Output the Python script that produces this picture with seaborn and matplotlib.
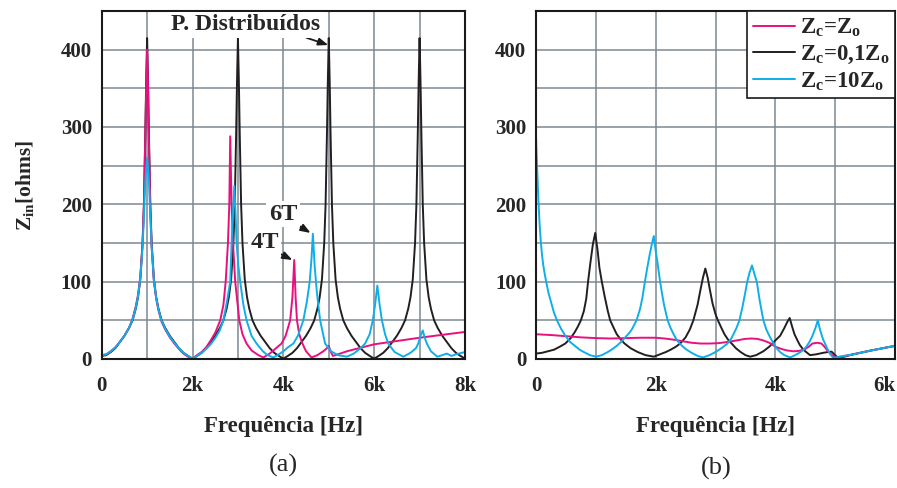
import numpy as np
import pandas as pd
import matplotlib
matplotlib.use("Agg")
import matplotlib.pyplot as plt
import seaborn as sns
from matplotlib.lines import Line2D

# ---------------- data ----------------
# (a) left panel, frequency in Hz, |Zin| in ohms
a_black_f = [0, 100, 200, 300, 400, 500, 600, 680, 750, 800, 850, 900, 930, 960, 980, 1000,
             1020, 1040, 1070, 1100, 1150, 1200, 1250, 1320, 1400, 1500, 1600, 1700, 1800, 1900, 2000,
             2100, 2200, 2300, 2400, 2500, 2600, 2680, 2750, 2800, 2850, 2900, 2930, 2960, 2980, 3000,
             3020, 3040, 3070, 3100, 3150, 3200, 3250, 3320, 3400, 3500, 3600, 3700, 3800, 3900, 4000,
             4100, 4200, 4300, 4400, 4500, 4600, 4680, 4750, 4800, 4850, 4900, 4930, 4960, 4980, 5000,
             5020, 5040, 5070, 5100, 5150, 5200, 5250, 5320, 5400, 5500, 5600, 5700, 5800, 5900, 6000,
             6100, 6200, 6300, 6400, 6500, 6600, 6680, 6750, 6800, 6850, 6900, 6930, 6960, 6980, 7000,
             7020, 7040, 7070, 7100, 7150, 7200, 7250, 7320, 7400, 7500, 7600, 7700, 7800, 7900, 8000]
a_black_z = [4, 5, 9, 14, 22, 30, 40, 50, 65, 80, 103, 150, 200, 290, 360, 415,
             360, 290, 200, 150, 103, 80, 65, 50, 40, 30, 22, 14, 8, 4, 0.5,
             4, 8, 14, 22, 30, 40, 50, 65, 80, 103, 150, 200, 290, 360, 415,
             360, 290, 200, 150, 103, 80, 65, 50, 40, 30, 22, 14, 8, 4, 0.5,
             4, 8, 14, 22, 30, 40, 50, 65, 80, 103, 150, 200, 290, 360, 415,
             360, 290, 200, 150, 103, 80, 65, 50, 40, 30, 22, 14, 8, 4, 0.5,
             4, 8, 14, 22, 30, 40, 50, 65, 80, 103, 150, 200, 290, 360, 415,
             360, 290, 200, 150, 103, 80, 65, 50, 40, 30, 22, 14, 8, 4, 0.5]

a_pink_f = [0, 100, 200, 300, 400, 500, 600, 680, 750, 800, 850, 900, 930, 960, 980, 1000,
            1020, 1040, 1070, 1100, 1150, 1200, 1250, 1320, 1400, 1500, 1600, 1700, 1800, 1900, 2000,
            2100, 2200, 2300, 2400, 2500, 2610, 2680, 2730, 2780, 2810, 2830, 2860, 2900, 2940, 3030,
            3100, 3190, 3300, 3450, 3560, 3700, 3800, 3960, 4050, 4150, 4200, 4240, 4270, 4300, 4350,
            4420, 4500, 4620, 4750, 4880, 4960, 5000, 5040, 5090, 5200, 5400, 6000, 7000, 8000]
a_pink_z = [5, 6, 10, 15, 22, 30, 40, 52, 68, 83, 106, 150, 200, 290, 350, 400,
            350, 280, 195, 145, 100, 78, 63, 48, 38, 28, 20, 13, 7, 3, 0.5,
            5, 9, 15, 24, 34, 50, 70, 100, 150, 200, 288, 200, 140, 100, 50,
            32, 20, 11, 5, 2, 7, 12, 20, 30, 50, 80, 128, 80, 50, 32,
            20, 10, 2, 5, 10, 14, 17, 10, 4, 6, 10, 19, 27.5, 35]

a_blue_f = [0, 100, 200, 300, 400, 500, 600, 680, 750, 800, 850, 900, 930, 960, 1000,
            1040, 1070, 1100, 1150, 1200, 1250, 1320, 1400, 1500, 1600, 1700, 1800, 1900, 2000,
            2100, 2200, 2300, 2400, 2500, 2600, 2680, 2760, 2830, 2860, 2890, 2920, 2950, 2970,
            3010, 3050, 3120, 3190, 3300, 3410, 3550, 3650, 3780, 3900, 4000, 4100, 4220, 4320,
            4440, 4520, 4580, 4620, 4650, 4690, 4740, 4810, 4920, 5050, 5200, 5400, 5550, 5700,
            5800, 5900, 5970, 6020, 6070, 6120, 6170, 6240, 6310, 6450, 6640, 6800, 6920, 6970,
            7020, 7070, 7110, 7160, 7250, 7390, 7500, 7600, 7700, 7800, 8000]
a_blue_z = [5, 6, 10, 15, 22, 30, 40, 51, 66, 81, 104, 145, 185, 230, 260,
            230, 185, 145, 102, 79, 64, 49, 39, 29, 21, 14, 8, 4, 0.5,
            4, 8, 13, 19, 27, 37, 50, 75, 100, 150, 190, 224, 185, 150,
            120, 100, 70, 50, 30, 20, 10, 5, 2, 6, 10, 15, 20, 30,
            50, 75, 100, 130, 162, 120, 85, 50, 20, 10, 5, 3, 7, 14,
            20, 32, 50, 70, 95, 70, 50, 32, 20, 9, 3, 8, 14, 20,
            30, 37, 28, 20, 10, 3, 5, 7, 4, 6, 9]

# (b) right panel
b_pink_f = [0, 250, 500, 750, 1000, 1250, 1500, 1750, 2000, 2150, 2300, 2450, 2600, 2750,
            2900, 3050, 3200, 3350, 3500, 3600, 3700, 3800, 3900, 4000, 4100, 4200, 4300,
            4400, 4500, 4560, 4620, 4700, 4770, 4820, 4880, 4950, 5020, 5300, 5600, 6000]
b_pink_z = [32, 31, 29.5, 28, 27, 26.5, 27, 27.5, 27.5, 26.5, 25, 23, 21, 20,
            20, 20.5, 22, 24, 26, 26.5, 26, 24, 21, 16, 13, 11, 10,
            10.5, 13, 16, 20, 21, 20, 16, 10, 5, 2, 6, 11, 17]

b_black_f = [0, 100, 200, 300, 400, 490, 580, 650, 700, 750, 800, 840, 870, 910, 950, 990,
             1030, 1060, 1100, 1150, 1200, 1240, 1300, 1350, 1420, 1480, 1580, 1700, 1830, 1970,
             2070, 2170, 2250, 2340, 2410, 2500, 2570, 2630, 2700, 2750, 2790, 2830, 2870, 2900,
             2950, 3000, 3040, 3100, 3150, 3210, 3270, 3340, 3420, 3500, 3580, 3680, 3800, 3900,
             4000, 4080, 4150, 4200, 4240, 4280, 4320, 4370, 4410, 4460, 4500, 4580, 4680, 4800,
             4880, 4940, 5000, 5050, 5300, 5600, 6000]
b_black_z = [7, 8, 10, 12, 16, 20, 27, 35, 42, 50, 62, 78, 100, 125, 148, 163,
             140, 118, 100, 80, 62, 50, 40, 32, 25, 20, 14, 9, 5, 3,
             6, 9, 12, 16, 20, 28, 38, 50, 70, 90, 105, 117, 105, 92,
             72, 58, 50, 40, 32, 25, 20, 14, 9, 5, 3, 5, 10, 16,
             24, 30, 40, 48, 53, 42, 32, 24, 18, 13, 10, 5, 6, 8,
             9, 9.5, 5, 1, 6, 11, 17]

b_blue_f = [0, 10, 20, 30, 40, 60, 80, 100, 120, 150, 170, 210, 250, 300, 350, 420, 490,
            570, 650, 730, 800, 900, 1000, 1100, 1200, 1280, 1350, 1420, 1480, 1550, 1600,
            1680, 1740, 1780, 1820, 1860, 1900, 1940, 1970, 2000, 2030, 2070, 2110, 2140, 2200,
            2250, 2300, 2350, 2400, 2500, 2600, 2700, 2790, 2900, 3000, 3100, 3200, 3260, 3300,
            3350, 3400, 3450, 3500, 3530, 3570, 3610, 3650, 3690, 3740, 3800, 3850, 3900, 3970,
            4020, 4080, 4150, 4250, 4330, 4400, 4460, 4520, 4570, 4620, 4670, 4710, 4740, 4770,
            4800, 4830, 4870, 4920, 4970, 5300, 5600, 6000]
b_blue_z = [289, 265, 245, 225, 205, 175, 152, 135, 122, 108, 100, 85, 74, 60, 50, 39, 30,
            22, 17, 12, 9, 5, 3, 5, 9, 13, 17, 22, 27, 33, 38,
            50, 65, 80, 100, 118, 135, 150, 159, 140, 125, 102, 83, 70, 50,
            40, 32, 25, 20, 13, 8, 4, 2, 5, 9, 14, 20, 26, 32,
            40, 50, 67, 87, 100, 112, 121, 110, 100, 75, 50, 38, 30, 20,
            14, 9, 5, 2, 5, 8, 11, 16, 22, 30, 40, 50, 40, 32,
            25, 20, 13, 6, 1.5, 6, 11, 17]

series_names = ["Zc=0,1Zo", "Zc=Zo", "Zc=10Zo"]
series_colors = {"Zc=Zo": "#e8107f", "Zc=0,1Zo": "#231f20", "Zc=10Zo": "#10aee8"}

x_ticks_a = [0, 2000, 4000, 6000, 8000]
x_ticklabels_a = ["0", "2k", "4k", "6k", "8k"]
x_ticks_b = [0, 2000, 4000, 6000]
x_ticklabels_b = ["0", "2k", "4k", "6k"]
y_ticks = [0, 100, 200, 300, 400]

# ---------------- frames ----------------
def frame(pairs):
    rows = []
    for name, f, z in pairs:
        rows.append(pd.DataFrame({"f": f, "Z": z, "serie": name}))
    return pd.concat(rows, ignore_index=True)

df_a = frame([("Zc=0,1Zo", a_black_f, a_black_z),
              ("Zc=Zo", a_pink_f, a_pink_z),
              ("Zc=10Zo", a_blue_f, a_blue_z)])
df_b = frame([("Zc=0,1Zo", b_black_f, b_black_z),
              ("Zc=Zo", b_pink_f, b_pink_z),
              ("Zc=10Zo", b_blue_f, b_blue_z)])

# ---------------- style ----------------
sns.set_style("white")
plt.rcParams["font.family"] = ["Liberation Serif", "DejaVu Serif"]
plt.rcParams["font.weight"] = "bold"
plt.rcParams["mathtext.fontset"] = "custom"
plt.rcParams["mathtext.rm"] = "Liberation Serif:bold"
plt.rcParams["mathtext.it"] = "Liberation Serif:bold"
plt.rcParams["mathtext.bf"] = "Liberation Serif:bold"

W, H = 897, 488
fig = plt.figure(figsize=(W / 100, H / 100), dpi=100)
ax_a = fig.add_axes([101.7 / W, 1 - 359 / H, (465 - 101.7) / W, (359 - 11) / H])
ax_b = fig.add_axes([536 / W, 1 - 359 / H, (895 - 536) / W, (359 - 11) / H])

grid_col = "#7d8792"
tick_fs = 15

for ax, df, xmax, xt, xtl in [(ax_a, df_a, 8000, x_ticks_a, x_ticklabels_a),
                               (ax_b, df_b, 6000, x_ticks_b, x_ticklabels_b)]:
    sns.lineplot(data=df, x="f", y="Z", hue="serie", hue_order=series_names,
                 palette=series_colors, estimator=None, sort=False, lw=1.4,
                 legend=False, ax=ax, zorder=3)
    ax.set_xlim(0, xmax)
    ax.set_ylim(0, 450)
    ax.set_xticks(xt)
    ax.set_xticklabels(xtl)
    ax.set_xticks(np.arange(1000, xmax, 2000), minor=True)
    ax.set_yticks(y_ticks)
    ax.set_yticks(np.arange(50, 450, 100), minor=True)
    ax.grid(True, which="both", color=grid_col, lw=1.1, zorder=0)
    ax.set_axisbelow(True)
    ax.tick_params(which="both", length=0, labelsize=tick_fs)
    ax.tick_params(axis="x", pad=12)
    ax.tick_params(axis="y", pad=7)
    for lab in ax.get_xticklabels() + ax.get_yticklabels():
        lab.set_fontweight("bold")
    for sp in ax.spines.values():
        sp.set_color("#1a1a1a")
        sp.set_linewidth(1.5)
        sp.set_zorder(5)
    ax.set_xlabel("Frequência [Hz]", fontsize=16.5, fontweight="bold", labelpad=15)
    ax.set_ylabel("")

# last tick label of (b) sits inside the frame edge
ax_b.get_xticklabels()[-1].set_horizontalalignment("right")
ax_b.get_xticklabels()[-1].set_x(6000)

ax_a.set_ylabel(r"$\mathrm{Z}_{\mathrm{in}}$[ohms]", fontsize=15.5, fontweight="bold", labelpad=18)

# annotations on (a)
bbox = dict(boxstyle="square,pad=0.1", fc="white", ec="none")
arrow = dict(arrowstyle="-|>,head_length=0.45,head_width=0.17", color="#1a1a1a", lw=1.3,
             shrinkA=0, shrinkB=0, mutation_scale=13)
ax_a.annotate("P. Distribuídos", xy=(4990, 406), xytext=(3170, 432),
              ha="center", va="center", fontsize=17, fontweight="bold", bbox=bbox,
              arrowprops=dict(arrow, relpos=(0.86, 0.0)), zorder=6)
ax_a.annotate("6T", xy=(4600, 163), xytext=(3990, 187),
              ha="center", va="center", fontsize=17.5, fontweight="bold", bbox=bbox,
              arrowprops=dict(arrow, relpos=(0.95, 0.05)), zorder=6)
ax_a.annotate("4T", xy=(4200, 128), xytext=(3590, 150),
              ha="center", va="center", fontsize=17.5, fontweight="bold", bbox=bbox,
              arrowprops=dict(arrow, relpos=(0.95, 0.05)), zorder=6)

# legend on (b)
leg_labels = {"Zc=Zo": r"$\mathrm{Z}_\mathrm{c}$=$\mathrm{Z}_\mathrm{o}$",
              "Zc=0,1Zo": r"$\mathrm{Z}_\mathrm{c}$=0,1$\mathrm{Z}_\mathrm{o}$",
              "Zc=10Zo": r"$\mathrm{Z}_\mathrm{c}$=10$\mathrm{Z}_\mathrm{o}$"}
order = ["Zc=Zo", "Zc=0,1Zo", "Zc=10Zo"]
handles = [Line2D([], [], color=series_colors[n], lw=1.4) for n in order]
leg = ax_b.legend(handles, [leg_labels[n] for n in order], loc="upper right",
                  bbox_to_anchor=(1.0, 1.0), fontsize=16.5, frameon=True, fancybox=False,
                  edgecolor="#1a1a1a", framealpha=1, borderpad=0.25, labelspacing=0.2,
                  handlelength=1.85, handletextpad=0.2, borderaxespad=0)
leg.get_frame().set_linewidth(1.2)
leg.set_zorder(10)

# panel captions
fig.text(283 / W, 1 - 465 / H, "(a)", ha="center", va="center", fontsize=19,
         fontweight="normal", math_fontfamily="cm")
fig.text(716 / W, 1 - 468 / H, "(b)", ha="center", va="center", fontsize=19,
         fontweight="normal", math_fontfamily="cm")

fig.savefig("out.png", dpi=100)
